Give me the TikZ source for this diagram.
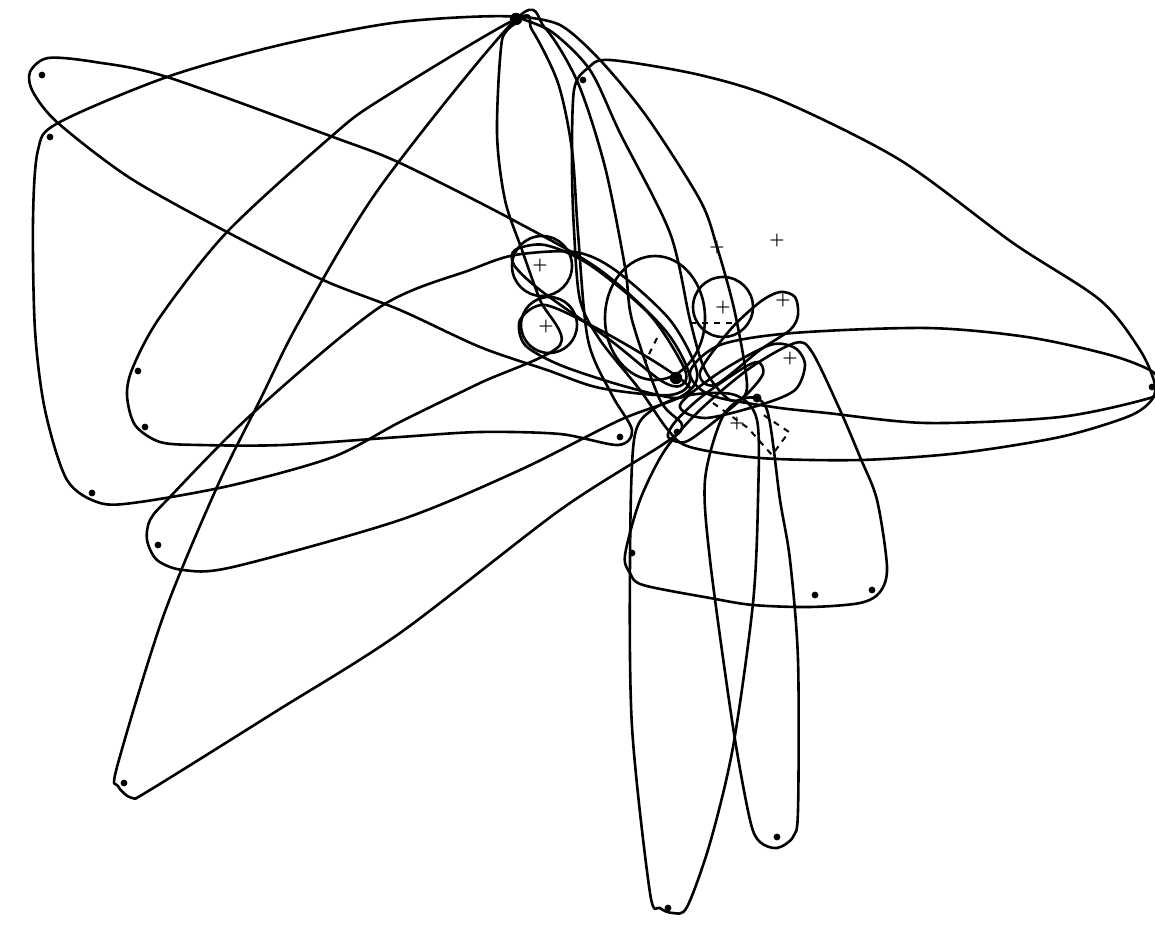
\documentclass[tikz,border=0pt]{standalone}
\usepackage{tikz}

\begin{document}
\begin{tikzpicture}[x=0.5pt,y=-0.5pt,
  hull/.style={line width=1.3pt,line join=round},
  vdot/.style={circle,fill,inner sep=1.2pt},
  vplus/.style={inner sep=0pt,font=\footnotesize\bfseries},
  hub/.style={circle,fill,inner sep=2.2pt}]
  \useasboundingbox (0,0) rectangle (1155,936);
  % hubs
  \node[hub] (top) at (516,19) {};
  \node[hub] (mid) at (676,378) {};
  \node[circle,fill,inner sep=1.6pt] (mid2) at (757,398) {};
  % vertices
  \node[vdot] (a1) at (42,75) {};
  \node[vdot] (a2) at (50,137) {};
  \node[vdot] (a3) at (138,371) {};
  \node[vdot] (a4) at (145,427) {};
  \node[vdot] (a5) at (92,493) {};
  \node[vdot] (a6) at (158,545) {};
  \node[vdot] (a7) at (124,783) {};
  \node[vdot] (a8) at (583,80) {};
  \node[vdot] (a9) at (620,437) {};
  \node[vdot] (a10) at (677,432) {};
  \node[vdot] (a11) at (668,908) {};
  \node[vdot] (a12) at (777,837) {};
  \node[vdot] (a13) at (815,595) {};
  \node[vdot] (a14) at (872,590) {};
  \node[vdot] (a15) at (632,553) {};
  \node[vdot] (a16) at (1152,387) {};
  % plus marks
  \node[vplus] (b1) at (540,266) {+};
  \node[vplus] (b2) at (546,326) {+};
  \node[vplus] (b3) at (717,247) {+};
  \node[vplus] (b4) at (777,240) {+};
  \node[vplus] (b5) at (723,307) {+};
  \node[vplus] (b6) at (783,300) {+};
  \node[vplus] (b7) at (790,358) {+};
  \node[vplus] (b8) at (737,423) {+};
  % left tip loop
  \draw[hull] plot[smooth cycle,tension=0.5] coordinates {(30,72) (48,58) (95,62) (167,77) (333,137) (400,163) (513,220) (600,270) (665,330) (690,378) (670,395) (600,388) (547,370) (480,347) (400,310) (323,280) (227,232) (130,178) (58,123) (33,92)};
  % big left loop
  \draw[hull] plot[smooth cycle,tension=0.5] coordinates {(516,17) (400,22) (280,45) (167,77) (58,123) (38,150) (33,220) (35,330) (45,410) (67,480) (100,503) (140,502) (233,485) (333,457) (400,422) (480,383) (560,345) (540,300) (522,250) (505,200) (497,133) (502,40)};
  % second left loop
  \draw[hull] plot[smooth cycle,tension=0.5] coordinates {(516,19) (380,100) (333,135) (227,232) (160,317) (133,367) (127,395) (135,425) (160,442) (200,445) (283,445) (400,437) (480,432) (560,434) (618,445) (632,430) (612,395) (588,340) (578,233) (572,150) (558,83) (532,30)};
  % long lower left loop
  \draw[hull] plot[smooth cycle,tension=0.5] coordinates {(516,19) (380,187) (300,320) (260,400) (217,487) (163,617) (117,767) (118,786) (132,798) (150,790) (275,712) (400,633) (560,510) (665,443) (682,425) (660,400) (632,320) (625,267) (605,167) (578,83) (545,28)};
  % loop from top hub to centre
  \draw[hull] plot[smooth cycle,tension=0.5] coordinates {(518,17) (552,32) (590,70) (620,133) (670,233) (690,320) (705,370) (730,400) (747,388) (735,313) (717,247) (700,200) (647,117) (600,60) (560,25)};
  % lower left tip loop
  \draw[hull] plot[smooth cycle,tension=0.5] coordinates {(697,372) (670,320) (615,270) (575,252) (515,255) (470,270) (380,307) (253,413) (167,500) (150,520) (147,540) (157,560) (183,570) (233,567) (400,520) (520,470) (620,420) (682,396)};
  % great right loop
  \draw[hull] plot[smooth cycle,tension=0.5] coordinates {(574,90) (588,68) (610,60) (700,75) (780,100) (900,160) (1013,243) (1100,300) (1140,350) (1155,385) (1150,402) (1127,417) (1060,437) (960,453) (860,460) (760,458) (690,447) (668,430) (640,390) (600,340) (580,300) (574,230) (572,167)};
  % right ellipse
  \draw[hull] plot[smooth cycle,tension=0.5] coordinates {(690,372) (720,345) (793,333) (927,328) (1027,337) (1110,355) (1153,372) (1158,388) (1150,398) (1060,417) (927,423) (827,413) (773,407) (710,395)};
  % lower right loop
  \draw[hull] plot[smooth cycle,tension=0.5] coordinates {(795,343) (812,352) (840,410) (860,457) (877,500) (887,567) (880,592) (860,603) (810,607) (753,605) (710,598) (643,585) (630,573) (625,555) (640,500) (665,450) (700,410) (750,368)};
  % long bottom loops
  \draw[hull] plot[smooth cycle,tension=0.5] coordinates {(634,440) (630,560) (632,727) (650,893) (660,908) (673,913) (687,907) (710,843) (733,747) (753,603) (758,500) (757,420) (735,395) (690,395) (652,410)};
  \draw[hull] plot[smooth cycle,tension=0.5] coordinates {(722,418) (705,480) (710,560) (733,727) (750,820) (760,842) (777,848) (793,837) (798,810) (798,660) (790,560) (780,500) (767,410) (745,398)};
  % circles
  \draw[hull] (542,266) circle [radius=30];
  \draw[hull] (549,325) circle [radius=28];
  \draw[hull] (655,318) ellipse [x radius=50,y radius=62];
  \draw[hull] (723,307) circle [radius=30];
  % small loops near the centre
  \draw[hull] plot[smooth cycle,tension=0.5] coordinates {(700,372) (730,330) (760,302) (780,292) (795,297) (798,315) (790,330) (760,350) (715,385)};
  \draw[hull] plot[smooth cycle,tension=0.5] coordinates {(680,405) (720,372) (770,345) (795,348) (805,365) (795,390) (760,405) (705,418)};
  \draw[hull] plot[smooth cycle,tension=0.5] coordinates {(668,437) (675,422) (700,398) (740,370) (758,362) (763,374) (745,396) (710,425) (685,442)};
  \draw[hull] plot[smooth cycle,tension=0.5] coordinates {(515,250) (545,245) (590,265) (650,315) (685,370) (680,386) (660,380) (610,340) (540,290) (514,265)};
  \draw[hull] plot[smooth cycle,tension=0.5] coordinates {(520,320) (545,305) (600,330) (660,365) (690,388) (675,398) (620,385) (560,365) (525,345)};
  % dashed marks
  \draw[line width=1pt,dashed] (713,403) -- (748,428) -- (772,455) -- (789,432) -- (762,414);
  \draw[line width=1pt,dashed] (690,323) -- (737,323);
  \draw[line width=1pt,dashed] (657,338) -- (645,362);
\end{tikzpicture}
\end{document}
